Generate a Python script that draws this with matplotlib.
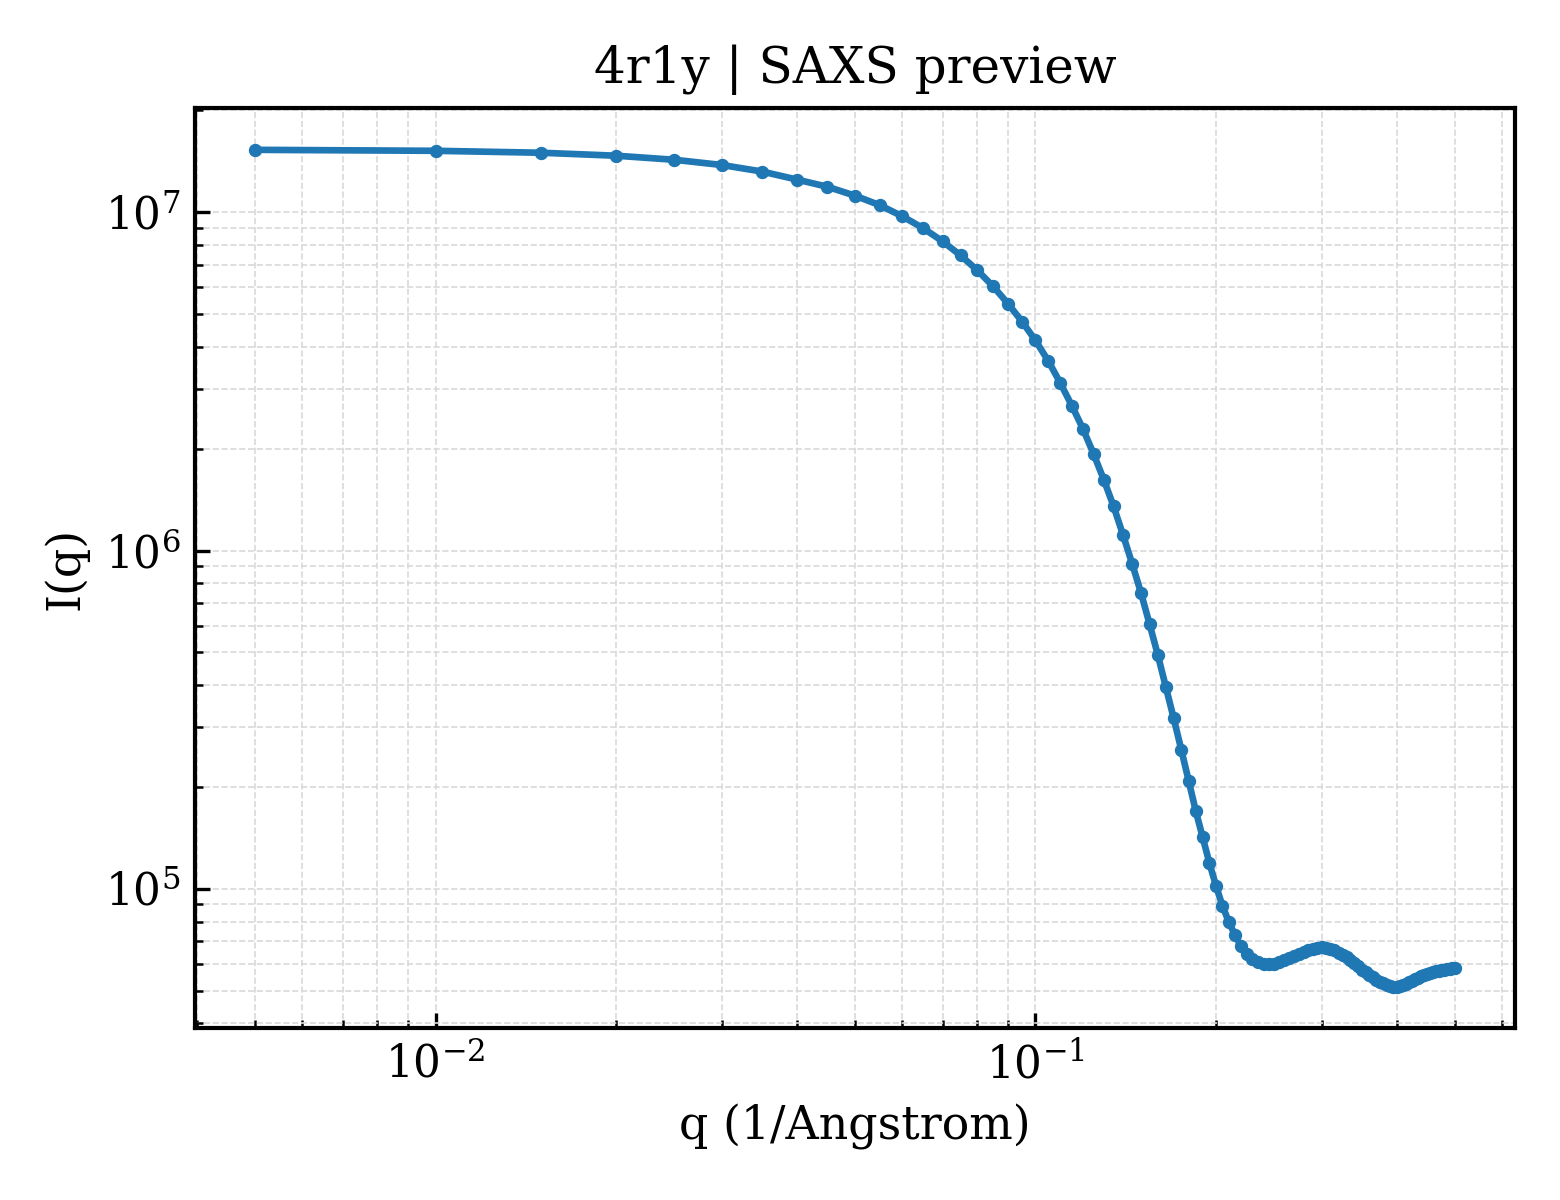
import matplotlib
matplotlib.use("Agg")
import matplotlib.pyplot as plt
import numpy as np

plt.rcParams["font.family"] = "serif"
plt.rcParams["font.serif"] = ["DejaVu Serif"]

# q grid (1/Angstrom)
q = [0.005, 0.010, 0.015, 0.020, 0.025, 0.030, 0.035, 0.040, 0.045, 0.050,
     0.055, 0.060, 0.065, 0.070, 0.075, 0.080, 0.085, 0.090, 0.095, 0.100,
     0.105, 0.110, 0.115, 0.120, 0.125, 0.130, 0.135, 0.140, 0.145, 0.150,
     0.155, 0.160, 0.165, 0.170, 0.175, 0.180, 0.185, 0.190, 0.195, 0.200,
     0.205, 0.210, 0.215, 0.220, 0.225, 0.230, 0.235, 0.240, 0.245, 0.250,
     0.255, 0.260, 0.265, 0.270, 0.275, 0.280, 0.285, 0.290, 0.295, 0.300,
     0.305, 0.310, 0.315, 0.320, 0.325, 0.330, 0.335, 0.340, 0.345, 0.350,
     0.355, 0.360, 0.365, 0.370, 0.375, 0.380, 0.385, 0.390, 0.395, 0.400,
     0.405, 0.410, 0.415, 0.420, 0.425, 0.430, 0.435, 0.440, 0.445, 0.450,
     0.455, 0.460, 0.465, 0.470, 0.475, 0.480, 0.485, 0.490, 0.495, 0.500]

# intensity
intensity = [1.53e7, 1.52e7, 1.50e7, 1.47e7, 1.43e7, 1.38e7, 1.32e7, 1.25e7, 1.19e7, 1.12e7,
             1.05e7, 9.73e6, 8.97e6, 8.21e6, 7.46e6, 6.74e6, 6.04e6, 5.37e6, 4.75e6, 4.18e6,
             3.64e6, 3.13e6, 2.68e6, 2.29e6, 1.93e6, 1.62e6, 1.35e6, 1.11e6, 9.12e5, 7.48e5,
             6.05e5, 4.90e5, 3.94e5, 3.19e5, 2.58e5, 2.09e5, 1.70e5, 1.42e5, 1.19e5, 1.02e5,
             8.90e4, 7.99e4, 7.31e4, 6.78e4, 6.41e4, 6.18e4, 6.08e4, 6.00e4, 5.975e4, 5.995e4,
             6.06e4, 6.14e4, 6.25e4, 6.33e4, 6.42e4, 6.51e4, 6.575e4, 6.64e4, 6.69e4, 6.71e4,
             6.69e4, 6.64e4, 6.575e4, 6.48e4, 6.375e4, 6.27e4, 6.14e4, 6.02e4, 5.895e4, 5.77e4,
             5.66e4, 5.565e4, 5.47e4, 5.375e4, 5.30e4, 5.25e4, 5.195e4, 5.16e4, 5.14e4, 5.14e4,
             5.16e4, 5.195e4, 5.23e4, 5.285e4, 5.34e4, 5.395e4, 5.45e4, 5.51e4, 5.545e4, 5.58e4,
             5.62e4, 5.66e4, 5.70e4, 5.715e4, 5.735e4, 5.77e4, 5.79e4, 5.81e4, 5.83e4, 5.85e4]

fig, ax = plt.subplots(figsize=(5.2, 4.0), dpi=300)
fig.subplots_adjust(left=0.125, right=0.971, top=0.91, bottom=0.143)

ax.loglog(q, intensity, "-o", color="#1f77b4", lw=1.6, ms=2.2)

ax.set_xlabel("q (1/Angstrom)", fontsize=11)
ax.set_ylabel("I(q)", fontsize=11)
ax.set_title("4r1y | SAXS preview", fontsize=12)

ax.tick_params(which="both", direction="in", labelsize=10.5)
ax.tick_params(which="major", length=3.5, width=0.8)
ax.tick_params(which="minor", length=2, width=0.6)
for s in ax.spines.values():
    s.set_linewidth(1.0)

ax.grid(True, which="both", ls="--", lw=0.4, color="0.85")

fig.savefig("out.png", dpi=300)
